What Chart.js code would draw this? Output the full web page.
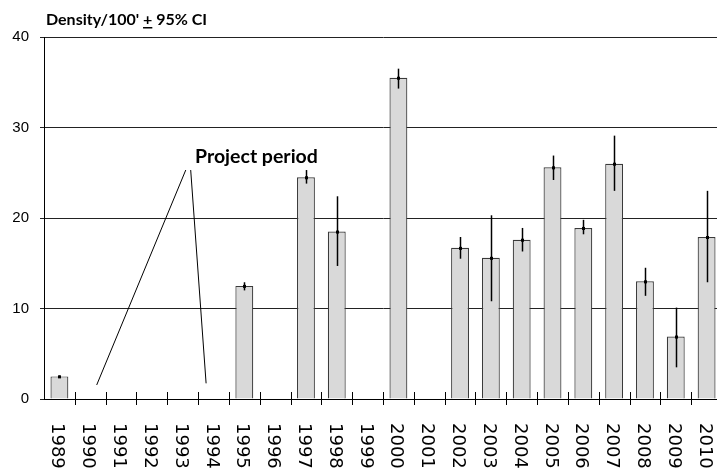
<!DOCTYPE html>
<html>
<head>
<meta charset="utf-8">
<script src="https://cdn.jsdelivr.net/npm/chart.js@4"></script>
<style>
  html, body { margin: 0; padding: 0; background: #fff; overflow: hidden; }
  #wrap { width: 730px; height: 473px; }
</style>
</head>
<body>
<div id="wrap"><canvas id="chart" width="730" height="473"></canvas></div>
<script>
const years = ["1989", "1990", "1991", "1992", "1993", "1994", "1995", "1996", "1997", "1998", "1999",
  "2000", "2001", "2002", "2003", "2004", "2005", "2006", "2007", "2008", "2009", "2010"];
const density = [2.5, null, null, null, null, null, 12.5, null, 24.5, 18.5, null,
  35.5, null, 16.7, 15.6, 17.6, 25.6, 18.9, 26.0, 13.0, 6.9, 17.9];
const ciLow = [2.4, null, null, null, null, null, 12.0, null, 23.8, 14.7, null,
  34.3, null, 15.5, 10.8, 16.3, 24.2, 18.2, 23.0, 11.4, 3.5, 12.9];
const ciHigh = [2.6, null, null, null, null, null, 12.9, null, 25.3, 22.4, null,
  36.5, null, 17.9, 20.3, 18.9, 26.9, 19.8, 29.1, 14.5, 10.1, 23.0];
const yTicks = [0, 10, 20, 30, 40];

// "Project period" callout, in data units (category index, density)
const calloutText = { x: 4.4, y: 26.1 };
const calloutLines = [
  { from: { x: 4.1, y: 25.3 }, to: { x: 1.21, y: 1.55 } },
  { from: { x: 4.26, y: 25.3 }, to: { x: 4.76, y: 1.73 } },
];

const errorBars = {
  id: "errorBars",
  afterDatasetsDraw(chart) {
    const { ctx, scales } = chart;
    const meta = chart.getDatasetMeta(0);
    ctx.save();
    ctx.strokeStyle = "#000";
    ctx.fillStyle = "#000";
    ctx.lineWidth = 1.5;
    meta.data.forEach((bar, i) => {
      if (density[i] === null) return;
      const x = Math.round(bar.x) + 0.5;
      const yLo = scales.y.getPixelForValue(ciLow[i]);
      const yHi = scales.y.getPixelForValue(ciHigh[i]);
      ctx.beginPath();
      ctx.moveTo(x, yHi);
      ctx.lineTo(x, yLo);
      ctx.stroke();
      const yv = scales.y.getPixelForValue(density[i]);
      ctx.fillRect(x - 1.5, yv - 1, 3, 3);
    });
    ctx.restore();
  },
};

const decorations = {
  id: "decorations",
  afterDraw(chart) {
    const { ctx, scales, chartArea } = chart;
    const xs = scales.x;
    const ys = scales.y;
    ctx.save();

    // crossing tick marks on the category axis
    ctx.strokeStyle = "#000";
    ctx.lineWidth = 1;
    for (let i = 1; i <= years.length; i++) {
      const x = Math.round(xs.getPixelForValue(i - 0.5)) + 0.5;
      ctx.beginPath();
      ctx.moveTo(x, chartArea.bottom - 7);
      ctx.lineTo(x, chartArea.bottom + 6);
      ctx.stroke();
    }

    // year labels, rotated clockwise
    ctx.fillStyle = "#000";
    ctx.font = "18px 'DejaVu Sans'";
    ctx.textAlign = "left";
    ctx.textBaseline = "alphabetic";
    years.forEach((label, i) => {
      const x = xs.getPixelForValue(i);
      ctx.save();
      ctx.translate(x, chartArea.bottom + 24);
      ctx.rotate(Math.PI / 2);
      ctx.fillText(label, 0, 7);
      ctx.restore();
    });

    // axis title with underlined plus
    ctx.font = "bold 16px Lato";
    ctx.textBaseline = "alphabetic";
    const tx = 46;
    const ty = 25;
    const p1 = "Density/100' ";
    const p2 = "+";
    const p3 = " 95% CI";
    ctx.fillText(p1, tx, ty);
    const w1 = ctx.measureText(p1).width;
    ctx.fillText(p2, tx + w1, ty);
    const w2 = ctx.measureText(p2).width;
    ctx.fillRect(tx + w1, ty + 2, w2, 1.5);
    ctx.fillText(p3, tx + w1 + w2, ty);

    // project period callout
    ctx.font = "bold 19.5px Lato";
    ctx.fillText("Project period", xs.getPixelForValue(calloutText.x), ys.getPixelForValue(calloutText.y));
    ctx.lineWidth = 1;
    calloutLines.forEach((ln) => {
      ctx.beginPath();
      ctx.moveTo(xs.getPixelForValue(ln.from.x), ys.getPixelForValue(ln.from.y));
      ctx.lineTo(xs.getPixelForValue(ln.to.x), ys.getPixelForValue(ln.to.y));
      ctx.stroke();
    });

    ctx.restore();
  },
};

new Chart(document.getElementById("chart"), {
  type: "bar",
  data: {
    labels: years,
    datasets: [
      {
        data: density,
        backgroundColor: "#d9d9d9",
        borderColor: "#3a3a3a",
        borderWidth: 1.2,
        borderSkipped: "bottom",
        barPercentage: 0.58,
        categoryPercentage: 1,
      },
    ],
  },
  options: {
    responsive: false,
    animation: false,
    layout: { padding: { top: 37, right: 8, left: 0, bottom: 0 } },
    plugins: {
      legend: { display: false },
      tooltip: { enabled: false },
    },
    scales: {
      x: {
        grid: { display: false },
        border: { display: true, color: "#000", width: 1 },
        ticks: { display: false },
        afterFit(scale) {
          scale.height = 74;
        },
      },
      y: {
        min: 0,
        max: 40,
        afterBuildTicks(scale) {
          scale.ticks = yTicks.map((v) => ({ value: v }));
        },
        grid: { color: "#222", lineWidth: 1, tickLength: 4, drawTicks: true },
        border: { display: true, color: "#000", width: 1 },
        ticks: {
          color: "#000",
          padding: 11,
          font: { family: "'Liberation Sans'", size: 15 },
        },
        afterFit(scale) {
          scale.width = 44;
        },
      },
    },
  },
  plugins: [errorBars, decorations],
});
</script>
</body>
</html>
